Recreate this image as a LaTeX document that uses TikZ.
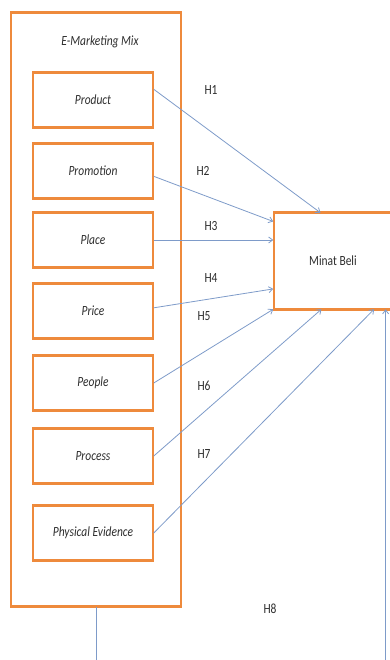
\documentclass[tikz,border=0pt]{standalone}
\usepackage{fontspec}
\setmainfont[FakeStretch=0.82]{Carlito}
\usetikzlibrary{arrows.meta,positioning}
\definecolor{emOrange}{HTML}{EE8A3C}
\definecolor{emBlue}{HTML}{7E9BC9}
\definecolor{emText}{HTML}{2E2E2E}
\tikzset{
  % Factor boxes of the marketing mix.
  emfig/box/.style={
    draw=emOrange, fill=white, line width=1.5pt, inner sep=2pt,
    minimum width=120pt, minimum height=53pt, text=emText,
    font=\fontsize{14}{16}\selectfont\itshape
  },
  % Thick top and bottom rule of a box.
  emfig/rule/.style={draw=emOrange, line width=3.2pt},
  % Hypothesis arrows.
  emfig/edge/.style={
    -{Straight Barb[length=4pt,width=6pt]}, draw=emBlue, line width=0.8pt
  },
  emfig/hyp/.style={font=\fontsize{14}{16}\selectfont, text=emText},
}

\begin{document}
\begin{tikzpicture}[x=1pt, y=-1pt]
\useasboundingbox (0,0) rectangle (390,660);
\clip (0,0) rectangle (390,660);

% outer group
\node[emfig/box, minimum width=170pt, minimum height=593pt] (mix) at (96,309.5) {};
\draw[emfig/rule] (mix.north west) -- (mix.north east);
\draw[emfig/rule] (mix.south west) -- (mix.south east);
\node[emfig/hyp, font=\fontsize{14}{16}\selectfont\itshape] (mixtitle) at (100,42) {E-Marketing Mix};

\foreach \n/\y/\t in {product/100/Product, promotion/171/Promotion, place/240/Place,
                      price/311/Price, people/383/People, process/456/Process,
                      evidence/533/Physical Evidence}{
  \node[emfig/box] (\n) at (93,\y) {\t};
  \draw[emfig/rule] (\n.north west) -- (\n.north east);
  \draw[emfig/rule] (\n.south west) -- (\n.south east);
}

\node[emfig/box, font=\fontsize{14}{16}\selectfont, minimum width=130pt,
      minimum height=95pt] (minat) at (339,261) {\hspace*{-12pt}Minat Beli};
\draw[emfig/rule] (minat.north west) -- (minat.north east);
\draw[emfig/rule] (minat.south west) -- (minat.south east);

\draw[emfig/edge] (product.10) -- (minat.111);
\draw[emfig/edge] (promotion.-5) -- (minat.149);
\draw[emfig/edge] (place.east) -- (place.east -| minat.west);
\draw[emfig/edge] (price.3) -- (minat.203);
\draw[emfig/edge] (people.east) -- (minat.south west);
\draw[emfig/edge] (process.east) -- (minat.250);
\draw[emfig/edge] (evidence.east) -- (minat.306);
\coordinate (h8turn) at (96,690);
\draw[emfig/edge] (mix.south) -- (h8turn) -| (minat.314);

\node[emfig/hyp] (h1) at (211,90)  {H1};
\node[emfig/hyp] (h2) at (203,171) {H2};
\node[emfig/hyp] (h3) at (211,226) {H3};
\node[emfig/hyp] (h4) at (211,278) {H4};
\node[emfig/hyp] (h5) at (204,316) {H5};
\node[emfig/hyp] (h6) at (204,386) {H6};
\node[emfig/hyp] (h7) at (204,454) {H7};
\node[emfig/hyp] (h8) at (270,609) {H8};
\end{tikzpicture}
\end{document}
